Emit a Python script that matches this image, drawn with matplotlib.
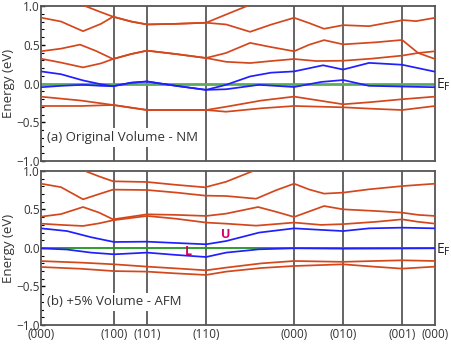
import matplotlib.pyplot as plt
import numpy as np

plt.rcParams['font.family'] = ['Open Sans', 'DejaVu Sans']

# high-symmetry points (path position) and labels
kpts = [0, 73, 106, 165, 253, 302, 361, 394]
klabels = ["(000)", "(100)", "(101)", "(110)", "(000)", "(010)", "(001)", "(000)"]

# ---- panel (a) Original Volume - NM ----
a_k_top1 = [44, 58, 72, 90, 106, 135, 165, 185, 206]
a_e_top1 = [1.0, 0.93, 0.862, 0.80, 0.762, 0.77, 0.784, 0.89, 1.0]

a_k_top2 = [0, 20, 42, 60, 72, 90, 106, 135, 165, 185, 209, 230, 253, 268, 283, 302, 328, 345, 362, 375, 394]
a_e_top2 = [0.85, 0.80, 0.675, 0.77, 0.862, 0.80, 0.762, 0.77, 0.784, 0.762, 0.667, 0.76, 0.848, 0.78, 0.706, 0.753, 0.74, 0.78, 0.818, 0.805, 0.848]

a_k_r3 = [0, 20, 39, 55, 72, 90, 106, 135, 165, 185, 209, 230, 253, 268, 283, 302, 335, 361, 377, 394]
a_e_r3 = [0.416, 0.45, 0.502, 0.42, 0.316, 0.38, 0.424, 0.38, 0.329, 0.394, 0.524, 0.47, 0.416, 0.50, 0.56, 0.505, 0.532, 0.562, 0.394, 0.316]

a_k_r4 = [0, 20, 42, 60, 72, 90, 106, 135, 165, 185, 209, 230, 253, 275, 302, 330, 361, 377, 394]
a_e_r4 = [0.32, 0.27, 0.208, 0.26, 0.316, 0.38, 0.424, 0.38, 0.329, 0.28, 0.264, 0.29, 0.316, 0.29, 0.294, 0.32, 0.36, 0.394, 0.416]

a_k_b1 = [0, 20, 42, 60, 72, 90, 106, 135, 165, 185, 209, 230, 253, 282, 302, 328, 361, 394]
a_e_b1 = [0.156, 0.12, 0.04, -0.01, -0.035, 0.01, 0.026, -0.03, -0.082, -0.017, 0.091, 0.14, 0.156, 0.235, 0.18, 0.266, 0.242, 0.152]

a_k_b2 = [0, 20, 42, 60, 72, 90, 106, 135, 165, 185, 218, 253, 280, 302, 328, 361, 394]
a_e_b2 = [-0.048, -0.03, -0.017, -0.03, -0.035, 0.01, 0.026, -0.03, -0.082, -0.074, -0.017, -0.045, 0.02, 0.045, -0.03, -0.039, -0.048]

a_k_l1 = [0, 40, 72, 106, 135, 165, 185, 220, 253, 302, 330, 361, 394]
a_e_l1 = [-0.17, -0.22, -0.277, -0.342, -0.342, -0.342, -0.30, -0.22, -0.169, -0.268, -0.24, -0.203, -0.169]

a_k_l2 = [0, 40, 72, 106, 135, 165, 185, 220, 253, 302, 330, 361, 394]
a_e_l2 = [-0.29, -0.29, -0.277, -0.342, -0.342, -0.342, -0.364, -0.32, -0.29, -0.307, -0.325, -0.342, -0.29]

# ---- panel (b) +5% Volume - AFM ----
b_k_top1 = [44, 58, 72, 106, 135, 164, 185, 212]
b_e_top1 = [1.0, 0.93, 0.866, 0.857, 0.82, 0.788, 0.86, 1.0]

b_k_top2 = [0, 20, 42, 58, 72, 106, 135, 164, 185, 215, 235, 253, 268, 283, 302, 328, 362, 394]
b_e_top2 = [0.835, 0.79, 0.632, 0.70, 0.758, 0.753, 0.72, 0.68, 0.675, 0.64, 0.75, 0.835, 0.76, 0.706, 0.719, 0.762, 0.805, 0.835]

b_k_r3 = [0, 20, 42, 58, 72, 106, 135, 165, 185, 217, 235, 253, 283, 302, 335, 361, 377, 394]
b_e_r3 = [0.407, 0.44, 0.532, 0.46, 0.372, 0.437, 0.43, 0.416, 0.446, 0.532, 0.47, 0.403, 0.545, 0.502, 0.48, 0.459, 0.43, 0.416]

b_k_r4 = [0, 20, 42, 58, 72, 106, 135, 165, 185, 215, 253, 280, 302, 335, 361, 377, 394]
b_e_r4 = [0.316, 0.30, 0.286, 0.32, 0.36, 0.416, 0.38, 0.33, 0.316, 0.29, 0.33, 0.30, 0.31, 0.34, 0.372, 0.34, 0.316]

b_k_b1 = [0, 26, 50, 73, 106, 135, 165, 185, 218, 253, 280, 302, 328, 361, 394]
b_e_b1 = [0.255, 0.22, 0.14, 0.078, 0.082, 0.065, 0.048, 0.09, 0.20, 0.255, 0.235, 0.22, 0.255, 0.264, 0.255]

b_k_b2 = [0, 26, 50, 73, 106, 135, 165, 185, 218, 253, 302, 361, 394]
b_e_b2 = [-0.005, -0.02, -0.06, -0.082, -0.06, -0.09, -0.117, -0.06, -0.017, -0.004, -0.009, -0.006, -0.004]

b_k_l1 = [0, 40, 73, 106, 135, 165, 185, 220, 253, 302, 330, 361, 394]
b_e_l1 = [-0.17, -0.19, -0.212, -0.242, -0.265, -0.29, -0.255, -0.20, -0.169, -0.18, -0.17, -0.16, -0.169]

b_k_l2 = [0, 40, 73, 106, 135, 165, 185, 220, 253, 302, 330, 361, 394]
b_e_l2 = [-0.247, -0.27, -0.30, -0.307, -0.33, -0.35, -0.307, -0.26, -0.234, -0.212, -0.24, -0.268, -0.242]

red = "#d4471c"
blue = "#1f1fff"

fig = plt.figure(figsize=(4.52, 3.45), dpi=100)
ax_a = fig.add_axes([0.0907, 0.5333, 0.872, 0.4493])
ax_b = fig.add_axes([0.0907, 0.0580, 0.872, 0.4464])

panels = [
    (ax_a, [(a_k_top1, a_e_top1), (a_k_top2, a_e_top2), (a_k_r3, a_e_r3), (a_k_r4, a_e_r4),
            (a_k_l1, a_e_l1), (a_k_l2, a_e_l2)],
     [(a_k_b1, a_e_b1), (a_k_b2, a_e_b2)], "#5cab5c", 2.0, "(a) Original Volume - NM"),
    (ax_b, [(b_k_top1, b_e_top1), (b_k_top2, b_e_top2), (b_k_r3, b_e_r3), (b_k_r4, b_e_r4),
            (b_k_l1, b_e_l1), (b_k_l2, b_e_l2)],
     [(b_k_b1, b_e_b1), (b_k_b2, b_e_b2)], "#1e961e", 1.3, "(b) +5% Volume - AFM"),
]

for ax, reds, blues, gcol, glw, label in panels:
    for k in kpts[1:-1]:
        ax.axvline(k, color="#3a3a3a", lw=1.1, zorder=1)
    for k, e in reds:
        ax.plot(k, e, color=red, lw=1.25, zorder=3, solid_joinstyle="round")
    ax.axhline(0, color=gcol, lw=glw, zorder=2)
    for k, e in blues:
        ax.plot(k, e, color=blue, lw=1.25, zorder=4, solid_joinstyle="round")
    ax.set_xlim(0, 394)
    ax.set_ylim(-1.0, 1.0)
    ax.set_yticks([-1.0, -0.5, 0.0, 0.5, 1.0])
    ax.set_yticks(np.arange(-1.0, 1.01, 0.1), minor=True)
    ax.tick_params(axis="y", direction="in", length=3, width=1, labelsize=8.5,
                   labelcolor="#333333", pad=1)
    ax.tick_params(axis="y", which="minor", direction="in", length=2, width=0.8)
    ax.set_ylabel("Energy (eV)", fontsize=9.5, color="#333333", labelpad=1)
    for s in ax.spines.values():
        s.set_color("#555555")
        s.set_linewidth(1.3)
    ax.text(6, -0.7, label, fontsize=9.5, color="#333333", va="center", ha="left", zorder=5,
            bbox=dict(facecolor="white", edgecolor="none", pad=2))
    ax.text(1.003, 0.49, r"E$_\mathrm{F}$", transform=ax.transAxes, fontsize=10,
            va="center", ha="left", color="#222222")

ax_a.set_xticks([])
ax_b.set_xticks(kpts)
ax_b.set_xticklabels(klabels, fontsize=8.5, color="#333333")
ax_b.tick_params(axis="x", length=0, pad=2)

ax_b.text(147, -0.045, "L", color="#d4006a", fontsize=9, fontweight="bold", ha="center", va="center", zorder=6)
ax_b.text(185, 0.18, "U", color="#d4006a", fontsize=9, fontweight="bold", ha="center", va="center", zorder=6)

fig.savefig("out.png", dpi=100)
